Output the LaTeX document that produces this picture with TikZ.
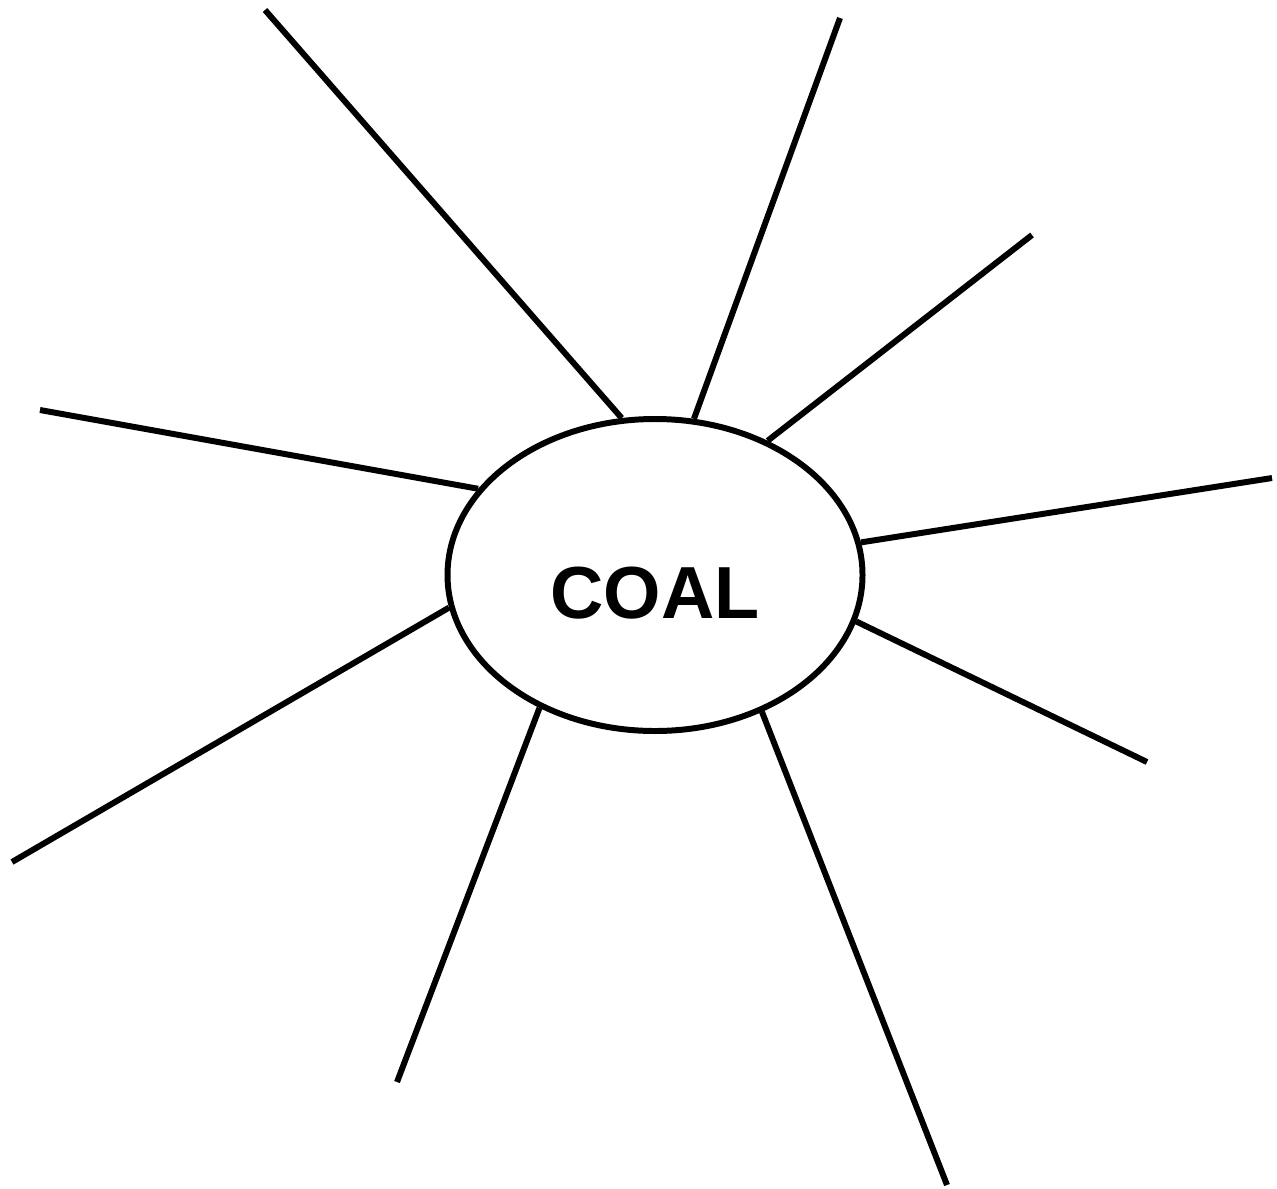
\documentclass[tikz,border=0pt]{standalone}
\usepackage{fontspec}
\setmainfont{Liberation Sans}
\usetikzlibrary{shapes.geometric}

\begin{document}
\begin{tikzpicture}[
    core/.style={draw, ellipse, line width=1.7pt, minimum width=4.15cm, minimum height=3.12cm,
        inner sep=0pt, font=\bfseries\fontsize{21}{24}\selectfont, text height=0.87cm, text depth=0pt},
    ray/.style={line width=1.7pt},
]
    \useasboundingbox (0,0) rectangle (12.77,11.88);
    % Centre
    \node[core] (coal) at (6.55,6.13) {COAL};
    % Rays
    \foreach \a/\x/\y [count=\i] in {102.7/2.65/11.78, 76.6/8.40/11.70, 50.2/10.32/9.53,
        9.0/12.72/7.10, 347.9/11.47/4.26, 308.4/9.47/0.03, 229.9/3.97/1.06,
        189.7/0.12/3.26, 154.7/0.40/7.78} {
        \coordinate (r\i) at (\x,\y);
        \draw[ray] (coal.\a) -- (r\i);
    }
\end{tikzpicture}
\end{document}
